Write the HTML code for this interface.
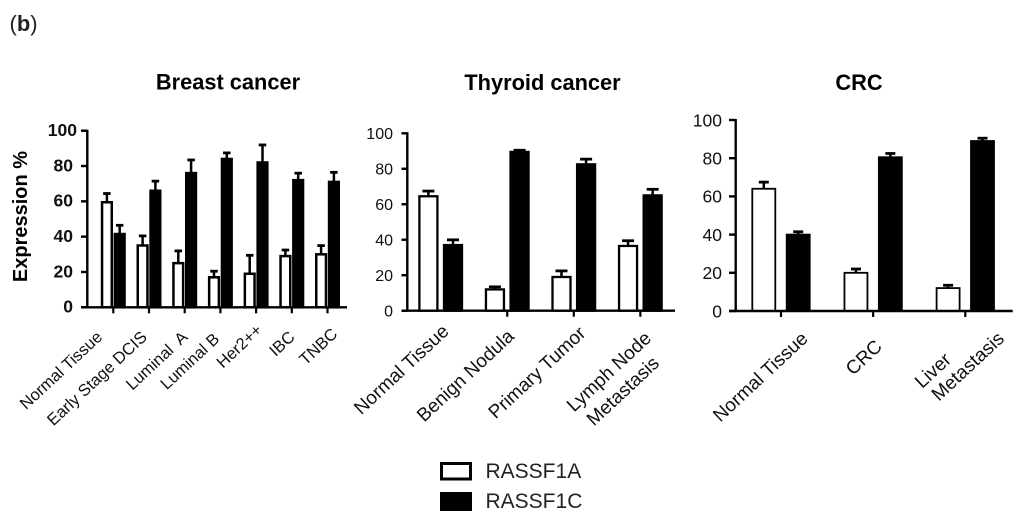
<!DOCTYPE html>
<html lang="en">
<head>
<meta charset="utf-8">
<title>RASSF1A and RASSF1C expression</title>
<style>
html,body{margin:0;padding:0;background:#fff;width:1024px;height:522px;overflow:hidden}
svg{display:block;font-family:"Liberation Sans",Arial,sans-serif}
</style>
</head>
<body>
<svg id="figure" width="1024" height="522" viewBox="0 0 1024 522" xmlns="http://www.w3.org/2000/svg">
<rect width="1024" height="522" fill="#fff"/>
<text x="9.5" y="31" font-size="22" fill="#222">(<tspan font-weight="bold">b</tspan>)</text>
<g>
<rect x="441.5" y="463.5" width="29" height="15.5" fill="#fff" stroke="#000" stroke-width="3"/>
<text x="485.5" y="478" font-size="21" fill="#222">RASSF1A</text>
<rect x="440" y="492" width="32" height="19" fill="#000"/>
<text x="485.5" y="508" font-size="21" fill="#222">RASSF1C</text>
</g>
</svg>
<script>
const yTicks = [0, 20, 40, 60, 80, 100];

const breastCategories = [["Normal Tissue"], ["Early Stage DCIS"], ["Luminal  A"], ["Luminal B"], ["Her2++"], ["IBC"], ["TNBC"]];
const breastA = [59.5, 35, 25, 17, 19, 29, 30];
const breastAErr = [5.5, 6, 7.5, 4, 11, 4, 5.5];
const breastC = [41.5, 66, 76, 84, 82, 72, 71];
const breastCErr = [5.5, 6, 8, 4, 10.5, 4.5, 6];

const thyroidCategories = [["Normal Tissue"], ["Benign Nodula"], ["Primary Tumor"], ["Lymph Node", "Metastasis"]];
const thyroidA = [64.5, 12, 19, 36.5];
const thyroidAErr = [3.5, 2, 4, 3.5];
const thyroidC = [37, 89.5, 82.5, 65];
const thyroidCErr = [3.5, 1.5, 3.5, 4];

const crcCategories = [["Normal Tissue"], ["CRC"], ["Liver", "Metastasis"]];
const crcA = [64, 20, 12];
const crcAErr = [4, 2.5, 2];
const crcC = [40, 80.5, 89];
const crcCErr = [2, 2.5, 2];

const panels = [
  {key:"breast", title:"Breast cancer", titleX:228, titleY:89.5, titleSize:21.8, cats:breastCategories, a:breastA, aErr:breastAErr, c:breastC, cErr:breastCErr,
   axisX:87.3, y0:307.3, y100:130.7, xStart:81, xEnd:347, first:113.3, step:35.7, off:6.4, barW:9.7, stroke:2.5, cap:7.5, tickSize:17.5, tickBold:true, tickRight:73, tickRightTop:77, tickLift:1, labelSize:16.5, rot:-43, tickFrom:0,
   anchors:[[[-10,31]],[[-1,31]],[[4,31]],[[0,33]],[[7,24]],[[4,31]],[[11,28]]]},
  {key:"thyroid", title:"Thyroid cancer", titleX:542.5, titleY:90, titleSize:21.8, cats:thyroidCategories, a:thyroidA, aErr:thyroidAErr, c:thyroidC, cErr:thyroidCErr,
   axisX:407.3, y0:310.7, y100:133.3, xStart:401.5, xEnd:675, first:440.7, step:66.55, off:12.3, barW:18, stroke:2.3, cap:12, tickSize:16, tickBold:false, tickRight:393, tickRightTop:393, tickLift:0, labelSize:19, rot:-43, tickFrom:1,
   anchors:[[[9.3,22]],[[8,27]],[[13,24]],[[12,29],[20,54]]]},
  {key:"crc", title:"CRC", titleX:859, titleY:90, titleSize:21.8, cats:crcCategories, a:crcA, aErr:crcAErr, c:crcC, cErr:crcCErr,
   axisX:735.7, y0:311, y100:120, xStart:729, xEnd:1012.7, first:781, step:92.15, off:17.2, barW:23, stroke:1.8, cap:10, tickSize:17.5, tickBold:false, tickRight:722, tickRightTop:722, tickLift:0, labelSize:19, rot:-43, tickFrom:0,
   anchors:[[[28,29]],[[10,37]],[[-13,50],[40,29]]]}
];

const svgNS = "http://www.w3.org/2000/svg";
const root = document.getElementById("figure");

function make(parent, tag, attrs, text) {
  const el = document.createElementNS(svgNS, tag);
  for (const k in attrs) el.setAttribute(k, attrs[k]);
  if (text !== undefined) el.textContent = text;
  parent.appendChild(el);
  return el;
}

function drawSeriesBar(g, p, xc, value, err, filled, yScale, name) {
  const top = yScale(value);
  const errTop = yScale(value + err);
  const stem = make(g, "line", {x1:xc, x2:xc, y1:top, y2:errTop, stroke:"#000", "stroke-width":2.5});
  
  
  const cap = make(g, "line", {x1:xc - p.cap / 2, x2:xc + p.cap / 2, y1:errTop + 1, y2:errTop + 1, stroke:"#000", "stroke-width":2.8});
  
  
  const bar = make(g, "rect", {x:xc - p.barW / 2, y:top, width:p.barW, height:p.y0 - top, fill:filled ? "#000" : "#fff", stroke:"#000", "stroke-width":p.stroke});
  
  
}

panels.forEach(function (p) {
  const yScale = function (v) { return p.y0 + (p.y100 - p.y0) * v / 100; };
  const xScale = function (i) { return p.first + p.step * i; };

  const g = make(root, "g", {});
  
  

  const title = make(g, "text", {x:p.titleX, y:p.titleY, "text-anchor":"middle", "font-size":p.titleSize, "font-weight":"bold", fill:"#000"}, p.title);
  
  

  p.cats.forEach(function (cat, i) {
    const xc = xScale(i);
    drawSeriesBar(g, p, xc - p.off, p.a[i], p.aErr[i], false, yScale, p.key + '-rassf1a-' + i);
    drawSeriesBar(g, p, xc + p.off, p.c[i], p.cErr[i], true, yScale, p.key + '-rassf1c-' + i);
  });

  const yAxis = make(g, "line", {x1:p.axisX, x2:p.axisX, y1:p.y100 - 1, y2:p.y0 + 1, stroke:"#000", "stroke-width":2.4});
  
  
  const xAxis = make(g, "line", {x1:p.xStart, x2:p.xEnd, y1:p.y0, y2:p.y0, stroke:"#000", "stroke-width":2.4});
  
  

  yTicks.forEach(function (t) {
    const y = yScale(t);
    const tick = make(g, "line", {x1:p.xStart, x2:p.axisX, y1:y, y2:y, stroke:"#000", "stroke-width":2.4});
    
    
    const labelX = t === 100 ? p.tickRightTop : p.tickRight;
    const label = make(g, "text", {x:labelX, y:y + p.tickSize * 0.36 - p.tickLift, "text-anchor":"end", "font-size":p.tickSize, "font-weight":p.tickBold ? "bold" : "normal", fill:"#111"}, String(t));
    
    
  });

  p.cats.forEach(function (cat, i) {
    const xc = xScale(i);
    if (i >= p.tickFrom) {
      const tick = make(g, "line", {x1:xc, x2:xc, y1:p.y0, y2:p.y0 + 6, stroke:"#000", "stroke-width":2.2});
      
      
    }
    cat.forEach(function (line, j) {
      const ax = xc + p.anchors[i][j][0];
      const ay = p.y0 + p.anchors[i][j][1];
      const label = make(g, "text", {x:ax, y:ay, "text-anchor":"end", "font-size":p.labelSize, fill:"#111", transform:"rotate(" + p.rot + " " + ax + " " + ay + ")"}, line);
      label.style.whiteSpace = "pre";
      
      
    });
  });
});

const yTitle = make(root, "text", {x:0, y:0, "text-anchor":"middle", "font-size":20, "font-weight":"bold", fill:"#000", transform:"translate(27 216.5) rotate(-90)"}, "Expression %");


</script>
</body>
</html>
